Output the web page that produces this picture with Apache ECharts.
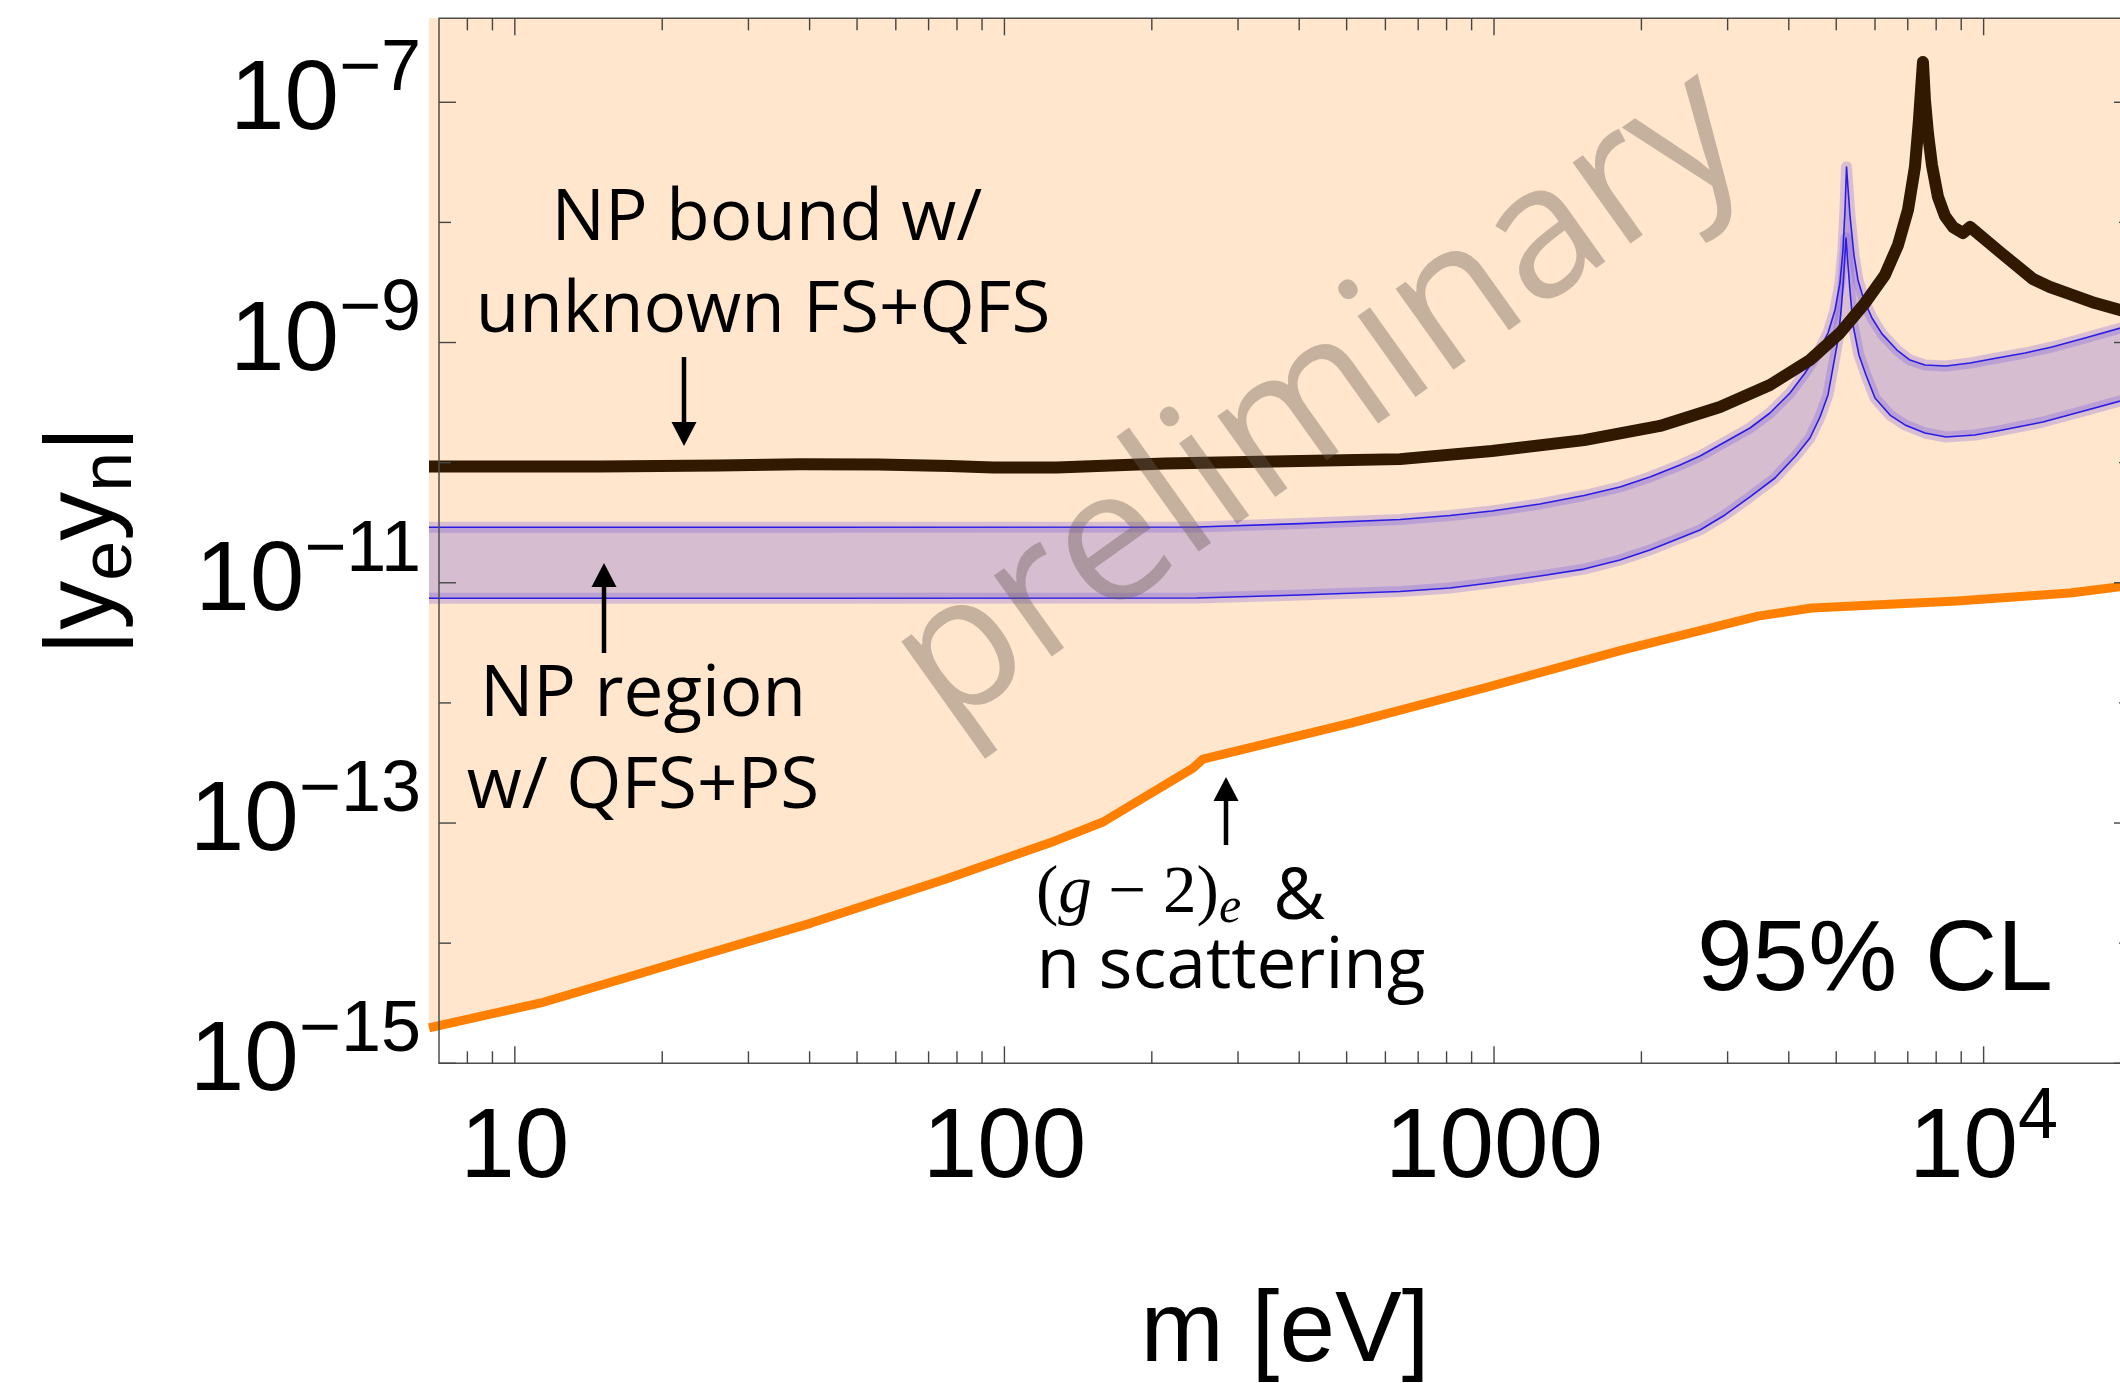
<!DOCTYPE html>
<html><head><meta charset="utf-8">
<script src="https://cdn.jsdelivr.net/npm/echarts@6/dist/echarts.min.js"></script>
<style>html,body{margin:0;padding:0;overflow:hidden;background:#fff}#c{width:2120px;height:1383px}</style>
</head><body><div id="c"></div>
<script>
// ---------------- data (m in eV, |ye yn|) ----------------
const massOrange = [6.68, 11.3, 21.3, 40.3, 76.0, 126.9, 159, 242.7, 254.4, 512.8, 967.6, 1826, 3461, 4461, 8827, 15020, 20000];
const coupOrange = [1.97e-15, 3.18e-15, 6.84e-15, 1.47e-14, 3.42e-14, 7.10e-14, 1.02e-13, 2.87e-13, 3.41e-13, 6.81e-13, 1.35e-12, 2.75e-12, 5.28e-12, 6.16e-12, 7.05e-12, 8.22e-12, 9.5e-12];

const massBound = [6.68, 14.9, 26.1, 38.2, 55.2, 77.4, 94.8, 128, 212.8, 401.5, 642.6, 990, 1527, 2183, 2894, 3661, 4419, 5088, 5724, 6288, 6685, 7007, 7240, 7378, 7518,
                   7589, 7696, 7843, 8068, 8338, 8659, 9077, 9380, 10800, 12610, 13660, 15010, 16890, 20000];
const coupBound = [9.29e-11, 9.29e-11, 9.46e-11, 9.68e-11, 9.65e-11, 9.38e-11, 9.12e-11, 9.12e-11, 9.86e-11, 1.03e-10, 1.07e-10, 1.25e-10, 1.54e-10, 2.02e-10, 2.91e-10, 4.43e-10, 7.15e-10, 1.20e-9, 2.13e-9, 3.65e-9, 6.48e-9, 1.27e-8, 2.89e-8, 7.11e-8, 2.16e-7,
                   1.044e-7, 5.55e-8, 3.00e-8, 1.63e-8, 1.13e-8, 9.15e-9, 8.16e-9, 9.16e-9, 5.67e-9, 3.38e-9, 2.90e-9, 2.53e-9, 2.13e-9, 1.76e-9];

const massBandUp = [6.68, 38.2, 247.4, 401.6, 642.6, 813, 990, 1241, 1527, 1808, 2082, 2398, 2635, 2963, 3333, 3661, 4023, 4317, 4589, 4810, 4971, 5088, 5161, 5210, 5248,
                    5333, 5435, 5538, 5695, 5916, 6201, 6653, 7073, 7589, 8378, 9380, 10650, 12150, 13790, 16110, 20000];
const coupBandUp = [2.90e-11, 2.90e-11, 2.91e-11, 3.11e-11, 3.36e-11, 3.63e-11, 3.96e-11, 4.53e-11, 5.33e-11, 6.27e-11, 7.60e-11, 9.56e-11, 1.136e-10, 1.485e-10, 1.943e-10, 2.59e-10, 3.80e-10, 5.58e-10, 8.18e-10, 1.20e-9, 1.865e-9, 3.13e-9, 5.89e-9, 1.27e-8, 2.89e-8,
                    1.152e-8, 5.35e-9, 3.32e-9, 2.26e-9, 1.60e-9, 1.18e-9, 8.66e-10, 7.15e-10, 6.50e-10, 6.37e-10, 6.75e-10, 7.43e-10, 8.18e-10, 9.18e-10, 1.09e-9, 1.40e-9];

const massBandLo = [6.68, 38.2, 247.4, 401.6, 642.6, 813, 990, 1241, 1527, 1808, 2082, 2398, 2635, 2963, 3333, 3749, 4134, 4419, 4633, 4810, 4923, 5041, 5112, 5173, 5210, 5235,
                    5284, 5333, 5410, 5564, 5750, 6000, 6438, 6908, 7589, 8378, 9603, 10800, 13220, 15730, 20000];
const coupBandLo = [7.44e-12, 7.44e-12, 7.47e-12, 7.91e-12, 8.46e-12, 9.05e-12, 1.00e-11, 1.139e-11, 1.30e-11, 1.548e-11, 1.875e-11, 2.36e-11, 2.75e-11, 3.67e-11, 5.18e-11, 7.45e-11, 1.14e-10, 1.604e-10, 2.40e-10, 3.66e-10, 6.14e-10, 1.05e-9, 1.78e-9, 3.32e-9, 5.35e-9, 7.42e-9,
                    4.42e-9, 2.74e-9, 1.40e-9, 7.87e-10, 5.37e-10, 3.45e-10, 2.49e-10, 2.06e-10, 1.765e-10, 1.635e-10, 1.70e-10, 1.85e-10, 2.18e-10, 2.64e-10, 3.45e-10];

// axis ranges and ticks
const xFrameRange = [7, 20000];
const xDataMin = 6.68;
const yRange = [1e-15, 5e-7];
const xMajorTicks = [10, 100, 1000, 10000];
const xMinorTicks = [8, 9, 20, 30, 40, 50, 60, 70, 80, 90, 200, 300, 400, 500, 600, 700, 800, 900, 2000, 3000, 4000, 5000, 6000, 7000, 8000, 9000];
const yMajorTicks = [1e-15, 1e-13, 1e-11, 1e-9, 1e-7];
const yMinorTicks = [1e-14, 1e-12, 1e-10, 1e-8];
const xLabelExps = [1, 2, 3, 4];
const xLabelText = ['10', '100', '1000', '10^4'];
const yLabelExps = [-15, -13, -11, -9, -7];

const zip = (a, b) => a.map((v, i) => [v, b[i]]);

const tickRich = {
  b: {fontFamily: 'Liberation Sans', fontSize: 98, padding: [19, 0, 19, 0], verticalAlign: 'bottom', color: '#000'},
  s: {fontFamily: 'Liberation Sans', fontSize: 72, padding: [0, 0, 64, 0], verticalAlign: 'top', color: '#000'}
};
function expOf(v) { const l = Math.log10(v); const e = Math.round(l); return Math.abs(l - e) < 1e-6 ? e : null; }

const tickStyle = {stroke: '#444', lineWidth: 1.4};
function xTickRender(params, api) {
  const cs = params.coordSys;
  const px = api.coord([api.value(0), api.value(1)])[0];
  const len = api.value(2) ? 17 : 12;
  const yb = cs.y + cs.height, yt = cs.y;
  return {type: 'group', children: [
    {type: 'line', shape: {x1: px, y1: yb, x2: px, y2: yb - len}, style: tickStyle},
    {type: 'line', shape: {x1: px, y1: yt, x2: px, y2: yt + len}, style: tickStyle}
  ]};
}
function yTickRender(params, api) {
  const cs = params.coordSys;
  const py = api.coord([api.value(0), api.value(1)])[1];
  const len = api.value(2) ? 17 : 12;
  const xl = cs.x, xr = cs.x + cs.width;
  return {type: 'group', children: [
    {type: 'line', shape: {x1: xl, y1: py, x2: xl + len, y2: py}, style: tickStyle},
    {type: 'line', shape: {x1: xr, y1: py, x2: xr - len, y2: py}, style: tickStyle}
  ]};
}

function bandRender(params, api) {
  if (params.dataIndex !== 0) return null;
  const pts = [];
  for (let i = 0; i < massBandUp.length; i++) pts.push(api.coord([massBandUp[i], coupBandUp[i]]));
  for (let i = massBandLo.length - 1; i >= 0; i--) pts.push(api.coord([massBandLo[i], coupBandLo[i]]));
  return {type: 'polygon', shape: {points: pts}, style: {fill: '#D6BDCF'}};
}

const chart = echarts.init(document.getElementById('c'), null, {renderer: 'canvas'});

const annFont = '"Open Sans", "Lato", sans-serif';
function arrow(x, yFrom, yTip) {
  const dir = yTip > yFrom ? 1 : -1;
  const headLen = 24, headW = 12.5;
  return [
    {type: 'line', shape: {x1: x, y1: yFrom, x2: x, y2: yTip - dir * (headLen - 2)}, style: {stroke: '#000', lineWidth: 4.5}, z: 100},
    {type: 'polygon', shape: {points: [[x - headW, yTip - dir * headLen], [x + headW, yTip - dir * headLen], [x, yTip]]}, style: {fill: '#000'}, z: 100}
  ];
}
function txt(text, x, y, size, align, family) {
  return {type: 'text', x: x, y: y, z: 100, style: {text: text, fontSize: size, fontFamily: family || annFont, fill: '#000', align: align || 'center', textAlign: align || 'center', verticalAlign: 'middle', textVerticalAlign: 'middle'}};
}

function lineSeries(data, color, width, z) {
  return {type: 'line', xAxisIndex: 1, yAxisIndex: 1, data: data, symbol: 'none', z: z, silent: true, clip: true,
          lineStyle: {color: color, width: width, join: 'round', cap: 'butt'}};
}
const halo = 'rgba(120,85,225,0.28)', core = '#2A1CE6';

const series = [
  {type: 'line', name: 'g-2 & n scattering', xAxisIndex: 1, yAxisIndex: 1, data: zip(massOrange, coupOrange),
   symbol: 'none', z: 1, clip: true, silent: true,
   lineStyle: {color: '#FF8000', width: 9},
   areaStyle: {origin: 'end', color: '#FFE6CC', opacity: 1},
   markLine: {silent: true, symbol: ['none', 'none'], label: {show: false}, animation: false,
     lineStyle: {color: '#FDD2A8', width: 10, type: 'solid'}, data: [{yAxis: yRange[1]}]}},
  {type: 'custom', name: 'NP region', xAxisIndex: 1, yAxisIndex: 1, coordinateSystem: 'cartesian2d',
   data: [[massBandUp[0], coupBandUp[0]]], renderItem: bandRender, z: 2, clip: true, silent: true},
  lineSeries(zip(massBandUp, coupBandUp), halo, 11, 3),
  lineSeries(zip(massBandLo, coupBandLo), halo, 11, 3),
  lineSeries(zip(massBandUp, coupBandUp), core, 1.6, 4),
  lineSeries(zip(massBandLo, coupBandLo), core, 1.6, 4),
  lineSeries(zip(massBound, coupBound), '#301900', 12, 5),
  {type: 'custom', xAxisIndex: 0, yAxisIndex: 0, coordinateSystem: 'cartesian2d', z: 11, clip: false, silent: true,
   encode: {x: 0, y: 1},
   data: xMajorTicks.map(v => [v, yRange[0], 1]).concat(xMinorTicks.map(v => [v, yRange[0], 0])), renderItem: xTickRender},
  {type: 'custom', xAxisIndex: 0, yAxisIndex: 0, coordinateSystem: 'cartesian2d', z: 11, clip: false, silent: true,
   encode: {x: 0, y: 1},
   data: yMajorTicks.map(v => [xFrameRange[0], v, 1]).concat(yMinorTicks.map(v => [xFrameRange[0], v, 0])), renderItem: yTickRender}
];

const option = {
  animation: false,
  backgroundColor: '#fff',
  grid: [
    {left: 439, top: 18.3, width: 1692, height: 1045, show: true, borderColor: '#4d4d4d', borderWidth: 1.5, backgroundColor: 'transparent', z: 10, containLabel: false, outerBoundsMode: 'none'},
    {left: 429, top: 18.3, width: 1702, height: 1045, show: false, containLabel: false, outerBoundsMode: 'none'}
  ],
  xAxis: [
    {type: 'log', gridIndex: 0, logBase: 10, min: xFrameRange[0], max: xFrameRange[1], splitNumber: 4, z: 10,
     axisLine: {show: false}, axisTick: {show: false}, splitLine: {show: false}, minorTick: {show: false},
     axisLabel: {margin: 19, showMinLabel: true, showMaxLabel: true, hideOverlap: false, rich: tickRich,
       formatter: v => { const e = expOf(v); const i = xLabelExps.indexOf(e); if (e === null || i < 0) return ''; const t = xLabelText[i]; if (t.indexOf('^') >= 0) { const p = t.split('^'); return '{b|' + p[0] + '}{s|' + p[1] + '}'; } return '{b|' + t + '}'; }},
     name: 'm [eV]', nameLocation: 'middle', nameGap: 220, nameMoveOverlap: false,
     nameTextStyle: {fontFamily: 'Liberation Sans', fontSize: 100, color: '#000'}},
    {type: 'log', gridIndex: 1, logBase: 10, min: xDataMin, max: xFrameRange[1], show: false}
  ],
  yAxis: [
    {type: 'log', gridIndex: 0, logBase: 10, min: yRange[0], max: yRange[1], splitNumber: 9, z: 10,
     axisLine: {show: false}, axisTick: {show: false}, splitLine: {show: false}, minorTick: {show: false},
     axisLabel: {margin: 18, hideOverlap: false, rich: tickRich,
       formatter: v => { const e = expOf(v); if (e === null || yLabelExps.indexOf(e) < 0) return ''; return '{b|10}{s|\u2212' + (-e) + '}'; }},
     name: '{m||y}{s|e}{m|y}{s|n}{m||}', nameLocation: 'middle', nameGap: 292, nameRotate: 90, nameMoveOverlap: false,
     nameTextStyle: {rich: {
       m: {fontFamily: 'Liberation Sans', fontSize: 98, padding: [0, 0, 12, 0], verticalAlign: 'bottom', color: '#000'},
       s: {fontFamily: 'Liberation Sans', fontSize: 72, verticalAlign: 'bottom', color: '#000'}}}},
    {type: 'log', gridIndex: 1, logBase: 10, min: yRange[0], max: yRange[1], show: false}
  ],
  series: series,
  graphic: [
    {type: 'text', x: 1320, y: 400, rotation: 35.5 * Math.PI / 180, z: 90,
     style: {text: 'preliminary', fontSize: 186, fontWeight: 500, fontFamily: annFont, fill: 'rgba(105,90,85,0.38)', align: 'center', textAlign: 'center', verticalAlign: 'middle', textVerticalAlign: 'middle'}},
    txt('NP bound w/', 767, 220, 71),
    txt('unknown FS+QFS', 763, 312, 71),
    txt('NP region', 643, 696, 71),
    txt('w/ QFS+PS', 643, 788, 71),
    txt('n scattering', 1231, 968, 71),
    txt('&', 1299, 899, 71),
    {type: 'text', x: 1036, y: 897, z: 100,
     style: {text: '{p|(}{g|g}{p| \u2212 2)}{e|e}', align: 'left', textAlign: 'left', verticalAlign: 'middle', textVerticalAlign: 'middle',
       rich: {p: {fontFamily: 'Liberation Serif', fontSize: 67, padding: [0, 0, 6, 0], verticalAlign: 'bottom', fill: '#000', color: '#000'},
              g: {fontFamily: 'Liberation Serif', fontStyle: 'italic', fontSize: 67, padding: [0, 0, 6, 0], verticalAlign: 'bottom', fill: '#000', color: '#000'},
              e: {fontFamily: 'Liberation Serif', fontStyle: 'italic', fontSize: 50, verticalAlign: 'bottom', fill: '#000', color: '#000'}}}},
    txt('95% CL', 1697, 962, 100, 'left', 'Liberation Sans')
  ].concat(arrow(684, 357, 446), arrow(604, 653, 563), arrow(1226, 845, 777))
};
chart.setOption(option);
</script></body></html>
